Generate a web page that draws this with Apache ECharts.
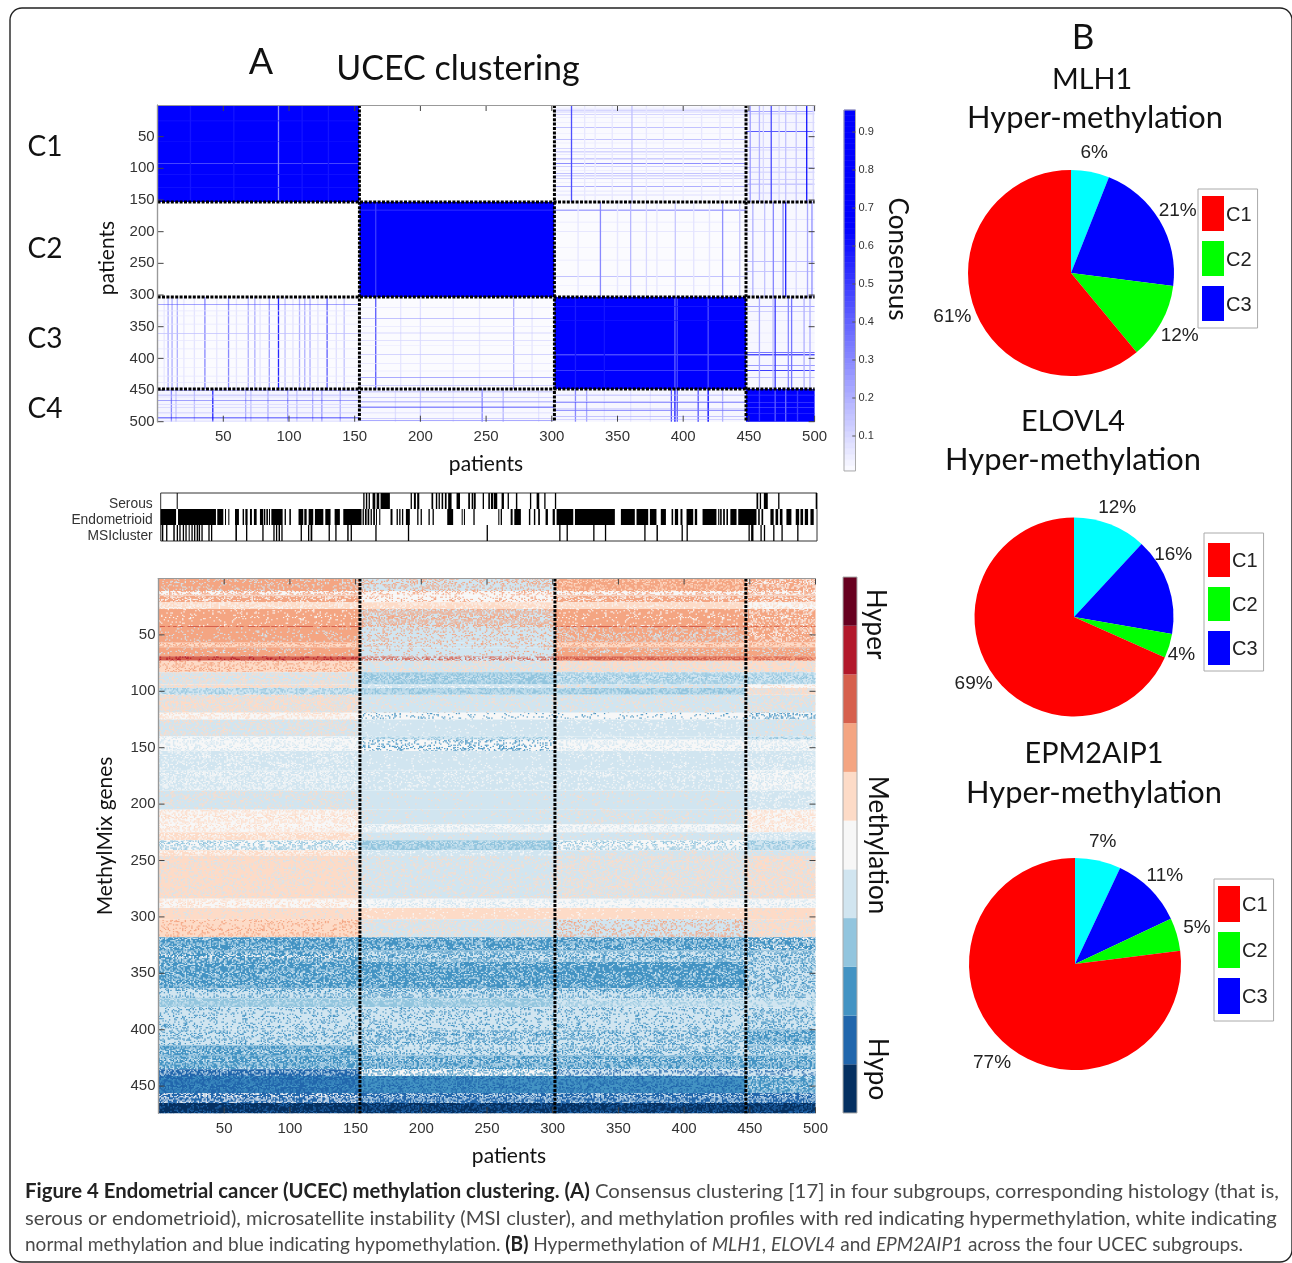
<!DOCTYPE html>
<html><head><meta charset="utf-8">
<style>html,body{margin:0;padding:0;background:#fff}#c{width:1292px;height:1263px}</style>
<script src="https://cdn.jsdelivr.net/npm/echarts@6/dist/echarts.min.js"></script>
</head><body><div id="c"></div>
<script>
// ---------- axis ticks
const patientTicks = [50,100,150,200,250,300,350,400,450,500];
const geneTicks = [50,100,150,200,250,300,350,400,450];
const consensusBarTicks = [0.1,0.2,0.3,0.4,0.5,0.6,0.7,0.8,0.9];
const trackRows = ['Serous','Endometrioid','MSIcluster'];

// ---------- consensus matrix
const colEdges = [0,153.6,302,447.8,500];
const rowEdges = [0,153,303,448.5,500];
// per cluster pair: [col cluster, row cluster, consensus]
const consensusBlocks = [
 [0,0,1],[1,0,0],[2,0,0.012],[3,0,0.025],
 [0,1,0],[1,1,1],[2,1,0.01],[3,1,0.018],
 [0,2,0.01],[1,2,0.01],[2,2,1],[3,2,0.02],
 [0,3,0.025],[1,3,0.018],[2,3,0.022],[3,3,0.92]];
// [patient index, cluster of that patient, crossing cluster, consensus] - drawn on both sides of the diagonal
const consensusStreaks = [
 [8,0,2,.2],[11,0,2,.2],[15,0,2,.2],[36,0,2,.3],[54,0,2,.3],[69,0,2,.2],[74,0,2,.2],[85,0,2,.25],[92,0,2,.55],[97,0,2,.15],[108,0,2,.2],[112,0,2,.2],[116,0,2,.2],[129,0,2,.4],[142,0,2,.15],
 [5,0,2,.06],[20,0,2,.06],[28,0,2,.07],[45,0,2,.06],[60,0,2,.07],[78,0,2,.07],[103,0,2,.07],[122,0,2,.08],[136,0,2,.08],
 [315,2,0,.45],[361,2,0,.16],[325,2,0,.06],[333,2,0,.05],[346,2,0,.06],[372,2,0,.06],[385,2,0,.06],[400,2,0,.05],[414,2,0,.06],[428,2,0,.06],[438,2,0,.06],
 [166,1,2,.42],[271,1,2,.2],[200,1,2,.08],[185,1,2,.06],[225,1,2,.06],[245,1,2,.06],[285,1,2,.06],
 [337,2,1,.3],[360,2,1,.18],[372,2,1,.1],[394,2,1,.14],[430,2,1,.28],[443,2,1,.14],[320,2,1,.06],[350,2,1,.06],[380,2,1,.06],[408,2,1,.07],[420,2,1,.07],
 [10.5,0,3,.3],[42,0,3,.55],[28,0,3,.15],[67,0,3,.2],[84,0,3,.2],[99,0,3,.25],[118,0,3,.2],[125,0,3,.25],[139,0,3,.2],[71,0,3,.15],[14,0,3,.15],[106,0,3,.15],
 [451,3,0,.25],[458,3,0,.2],[467,3,0,.45],[478,3,0,.15],[486,3,0,.14],[494,3,0,.6],[461,3,0,.1],[473,3,0,.1],[499,3,0,.1],
 [247,1,3,.3],[263,1,3,.18],[200,1,3,.14],[181,1,3,.08],[225,1,3,.07],[290,1,3,.07],
 [453,3,1,.2],[462,3,1,.15],[468.6,3,1,.3],[476,3,1,.3],[478,3,1,.55],[486,3,1,.1],[494.6,3,1,.22],[498,3,1,.28],
 [318,2,3,.3],[326.5,2,3,.22],[391,2,3,.45],[393.7,2,3,.6],[395.5,2,3,.4],[411.5,2,3,.45],[419,2,3,.7],[340,2,3,.07],[360,2,3,.07],[375,2,3,.07],[430,2,3,.2],[411,2,3,.22],
 [458,3,2,.22],[470,3,2,.5],[480,3,2,.3],[482.5,3,2,.35],[492,3,2,.2],[496.5,3,2,.2],[468.4,3,2,.16],
 // lighter lines on the blocks of the diagonal
 [92,0,0,.3],[25,0,0,.6],[58,0,0,.6],[110,0,0,.6],[130,0,0,.6],
 [166,1,1,.5],
 [393.7,2,2,.4],[395.5,2,2,.48],[419,2,2,.45],[318,2,2,.58],[340,2,2,.6],
 [458,3,3,.5],[470,3,3,.42],[478,3,3,.38],[487,3,3,.5]
];

// ---------- histology / MSI tracks: [first patient, last patient]
const serousRuns = [[12.2,12.7],[154.3,155.3],[156.3,157.4],[158.4,159.4],[161.4,163.5],[164.5,166.5],[167.5,174.6],[190.4,191.4],[192.9,194.4],[195.4,197],[206.3,207.6],[209.6,210.7],[211.7,212.7],[214,215.2],[216.5,217.8],[219,221.6],[225.4,228],[234.3,235.6],[236.9,238.2],[238.7,240],[245.3,246.3],[249.6,250.8],[251.6,253.4],[253.9,256.4],[259.7,261.5],[264.3,265.3],[270.6,271.7],[281.3,282.3],[286.4,288.4],[292.2,293.2],[300.3,301.3],[453.9,455.2],[456.4,457.4],[459.5,462.5],[470.4,471.4],[499,500]];
const endometrioidRuns = [[0,11.7],[13.2,42.1],[43.1,47.7],[49,49.7],[51.5,52.3],[56.6,59.6],[62.4,63.5],[64.5,66.2],[68,69.5],[71,73.1],[75.6,78.2],[78.7,79.7],[80.5,81.7],[82.5,83.2],[84.3,92.9],[94.4,95.4],[98,99.2],[105,108.6],[109.4,111.2],[112.7,116.2],[117.5,123.9],[125.4,129.4],[132.5,136.5],[139.1,153],[153.8,154.8],[155.6,156.9],[157.6,158.9],[159.9,160.9],[161.9,163.2],[164,164.5],[166.5,167.3],[175.1,176.6],[179.7,180.7],[181.7,182.7],[183.8,184.8],[186.8,189.8],[195.4,196.4],[198,199],[204,205],[207.1,208.1],[218.3,222.8],[229.3,230],[231,231.8],[238.2,239.2],[257.2,258],[259,260],[266.6,268.1],[269.4,274.4],[280.5,281.6],[284.3,285.4],[287.6,288.9],[293.2,295],[298.6,300.3],[301.6,314.3],[315.6,346],[350.6,361.2],[362.5,371.4],[372.7,377.7],[381,384.9],[389.2,390.4],[391.7,394.2],[396,397.5],[400.6,405.7],[406.9,408.7],[412.8,423.4],[424.7,425.6],[426.2,427.4],[428.5,429.8],[431,432.2],[434,438.7],[440,453.9],[455.2,456.4],[457.7,459],[464.5,467],[468.4,470.4],[471.7,473.7],[476.7,480.5],[483.8,486.4],[487.4,489.4],[490.7,493.2],[495,497.5]];
const msiRuns = [[0.8,2],[4.1,5.1],[9.6,10.7],[12.2,13.2],[14.2,15.2],[16.8,17.8],[18.8,19.8],[21.3,22.1],[23.4,24.4],[25.4,26.4],[27.4,28.4],[28.9,30],[31,32],[36.3,37.3],[38.3,39.3],[56.9,58.1],[65,66],[77.4,78.4],[85.8,86.8],[87.8,88.8],[89.8,90.9],[91.9,92.9],[106.6,107.6],[112.2,113.2],[114.2,115.5],[127.9,128.9],[133,134],[142.1,143.2],[144.7,145.7],[163.5,164.5],[188.3,189.3],[248.3,249.3],[303.6,304.6],[309.2,310.2],[329.5,330.5],[338.4,339.4],[368.4,369.4],[377.7,378.8],[396.8,397.8],[400.6,401.6],[447.8,448.8],[449.8,451.6],[456.9,457.9],[459.5,460.5],[466.6,467.6],[472.9,473.9],[484.9,485.9]];

// ---------- methylation: rows grouped in bands; per cluster and band: [main level, scattered level, share of scattered cells]
// levels run from 0 (deep hypo) to 10 (deep hyper)
const methylLevels = ['#053061','#2166ac','#4393c3','#92c5de','#d1e5f0','#f7f7f7','#fddbc7','#f4a582','#d6604d','#b2182b','#67001f'];
const methylColEdges = [0,153.3,301.7,447,500];
const methylRowEdges = [0,11,15,21,27,42,43,57,61,69,73,83,94,97,103,119,125,140,143,153,170,188,205,218,225,232,241,246,284,292,302,318,330,340,363,372,380,400,414,423,435,441,456,465,474];
const methylC1 = [[7,4,.2],[5,7,.4],[7,5,.3],[6,5,.3],[7,5,.1],[8,7,.3],[7,4,.12],[6,7,.4],[7,4,.12],[8,9,.2],[6,7,.25],[4,6,.4],[6,4,.3],[4,3,.35],[6,4,.45],[5,6,.3],[4,6,.3],[5,4,.4],[5,4,.3],[4,5,.25],[4,5,.4],[4,6,.22],[5,6,.4],[5,6,.3],[6,5,.3],[5,3,.4],[6,5,.4],[6,4,.2],[5,6,.3],[6,4,.1],[6,7,.2],[2,4,.35],[2,5,.4],[2,4,.35],[4,2,.3],[3,4,.3],[4,2,.2],[4,2,.25],[2,4,.4],[2,4,.4],[1,4,.3],[1,2,.4],[1,5,.4],[0,1,.2]];
const methylC2 = [[4,7,.3],[5,7,.25],[5,7,.2],[6,5,.2],[4,7,.5],[4,7,.5],[4,7,.2],[4,7,.2],[4,7,.1],[4,8,.5],[4,6,.3],[3,4,.4],[4,5,.2],[3,4,.5],[4,6,.12],[5,2,.12],[4,5,.05],[4,3,.3],[5,2,.25],[4,5,.08],[4,5,.15],[4,6,.05],[4,6,.08],[5,4,.4],[4,6,.1],[3,4,.4],[4,5,.2],[4,6,.2],[5,4,.3],[6,5,.1],[4,6,.3],[2,4,.35],[4,2,.45],[2,4,.3],[4,2,.4],[3,4,.3],[4,2,.2],[4,2,.4],[4,2,.3],[2,4,.45],[5,2,.4],[2,1,.35],[1,4,.4],[0,1,.3]];
const methylC3 = [[7,6,.3],[5,7,.3],[7,5,.35],[6,5,.15],[7,5,.12],[8,7,.3],[7,4,.3],[6,7,.3],[7,4,.2],[8,7,.3],[6,4,.3],[4,3,.5],[4,6,.2],[3,4,.4],[4,6,.15],[5,2,.1],[4,5,.1],[4,5,.2],[5,4,.3],[4,5,.1],[4,5,.2],[4,6,.08],[4,6,.15],[5,4,.3],[4,6,.12],[5,3,.35],[4,6,.2],[4,6,.4],[5,4,.2],[6,5,.05],[4,7,.25],[2,4,.4],[4,2,.4],[2,4,.25],[4,2,.35],[4,3,.35],[4,2,.2],[4,2,.35],[4,2,.35],[2,4,.45],[4,1,.3],[2,1,.35],[1,4,.4],[0,1,.3]];
const methylC4 = [[7,5,.4],[5,7,.4],[7,5,.4],[5,6,.3],[7,5,.3],[7,8,.5],[7,5,.3],[6,7,.3],[7,4,.2],[7,8,.5],[6,4,.3],[4,3,.4],[5,6,.2],[6,4,.4],[4,6,.3],[5,2,.3],[4,6,.15],[4,3,.3],[5,4,.4],[4,5,.25],[5,4,.4],[4,5,.2],[5,6,.4],[5,6,.35],[4,5,.3],[4,3,.4],[4,6,.2],[6,4,.4],[5,4,.3],[6,4,.1],[6,4,.3],[2,5,.4],[4,2,.4],[4,2,.35],[4,2,.3],[4,3,.3],[4,2,.3],[2,4,.45],[4,2,.4],[2,4,.4],[4,1,.3],[2,4,.4],[1,4,.4],[0,1,.35]];

// ---------- pies: slices clockwise from 12 o'clock
const pieNames = ['C4','C3','C2','C1'];
const pieColors = ['#00ffff','#0000ff','#00ff00','#ff0000'];
const mlh1Values = [6,21,12,61];
const elovl4Values = [12,16,4,69];
const epm2aip1Values = [7,11,5,77];

// ---------- text
const FONT = 'Lato';
const captionLines = [
 '{b|Figure 4 Endometrial cancer (UCEC) methylation clustering. (A)} Consensus clustering [17] in four subgroups, corresponding histology (that is,',
 'serous or endometrioid), microsatellite instability (MSI cluster), and methylation profiles with red indicating hypermethylation, white indicating',
 'normal methylation and blue indicating hypomethylation. {b|(B)} Hypermethylation of {i|MLH1}, {i|ELOVL4} and {i|EPM2AIP1} across the four UCEC subgroups.'];

// ---------- helpers
function consensusColor(v){
  const t = Math.min(1, v/0.65), c = Math.round(255*(1-t));
  return 'rgb('+c+','+c+',255)';
}
// fixed dither tables: the grain only shows each band's share of scattered cells
const ditherA = [.13,.71,.38,.92,.05,.56,.27,.84,.44,.63,.19];
const ditherB = [.48,.09,.77,.31,.95,.22,.6,.02,.86,.35,.67,.15,.53];
const ditherC = [.33,.81,.07,.59,.24,.98,.42];
const ditherD = [.62,.17,.89,.4,.75,.01,.28,.52,.94,.11,.7,.36,.83,.46,.21,.57,.04];
const tiles = {};
function speckTile(level, share){
  const key = level+'_'+share;
  if(tiles[key]) return tiles[key];
  const cv = document.createElement('canvas'); cv.width = 393; cv.height = 339;
  const ctx = cv.getContext('2d'); ctx.fillStyle = methylLevels[level];
  for(let i=0;i<300;i++) for(let j=0;j<300;j++){
    const raw = ditherA[i%11]*0.6 + ditherB[j%13]*0.6 + ditherC[(i+j)%7]*1.7 + ditherD[(i+2*j)%17]*2.3 + ditherA[(3*i+j)%11]*3.1;
    if(raw-Math.floor(raw) < share) ctx.fillRect(i*1.31,j*1.13,1.31,1.13);
  }
  return tiles[key] = {image:cv, repeat:'repeat'};
}
function rectItem(api,fill,extra){
  const a = api.coord([api.value(0),api.value(2)]), b = api.coord([api.value(1),api.value(3)]);
  return Object.assign({type:'rect',shape:{x:Math.min(a[0],b[0]),y:Math.min(a[1],b[1]),width:Math.abs(b[0]-a[0]),height:Math.abs(b[1]-a[1])},style:{fill:fill}},extra||{});
}

// ---------- build series data
const consensusData = [];
consensusBlocks.forEach(b=>consensusData.push([colEdges[b[0]],colEdges[b[0]+1],rowEdges[b[1]],rowEdges[b[1]+1],b[2]]));
consensusStreaks.forEach(s=>{
  const [i,own,other,v] = s;
  consensusData.push([i-.5,i+.5,rowEdges[other],rowEdges[other+1],v]);
  consensusData.push([colEdges[other],colEdges[other+1],i-.5,i+.5,v]);
});
const methylData = [];
[methylC1,methylC2,methylC3,methylC4].forEach((cells,c)=>cells.forEach((cell,k)=>{
  methylData.push([methylColEdges[c],methylColEdges[c+1],methylRowEdges[k],methylRowEdges[k+1],cell[0],cell[1],cell[2]]);
}));
const trackData = [];
[serousRuns,endometrioidRuns,msiRuns].forEach((runs,row)=>runs.forEach(r=>trackData.push([r[0],r[1],row])));
const consensusSteps = [];
for(let k=0;k<64;k++) consensusSteps.push([0,1,0.008+k*0.95/64,0.008+(k+1)*0.95/64]);
const methylBarData = methylLevels.map((c,i)=>[0,1,i,i+1,i]);

// ---------- grids and axes
const grids = [
 {left:157.6,top:105,width:657,height:316.7},        //0 consensus
 {left:160.7,top:493,width:656.3,height:48,show:true,borderColor:'#333',borderWidth:1}, //1 tracks
 {left:158.5,top:578.5,width:657,height:534.7},      //2 methylation
 {left:844,top:110,width:11.5,height:364},           //3 consensus bar
 {left:843,top:577,width:14,height:536}              //4 methylation bar
];
const labelStyle = {fontFamily:'Liberation Sans',fontSize:15,color:'#333'};
const frameLine = {show:true,lineStyle:{color:'#999',width:1.2}};
function xPair(g){return [
 {type:'value',gridIndex:g,min:0,max:500,position:'bottom',z:5,axisLine:frameLine,splitLine:{show:false},
  axisTick:{show:false},axisLabel:Object.assign({margin:8,customValues:patientTicks},labelStyle)},
 {type:'value',gridIndex:g,min:0,max:500,position:'top',z:5,axisLine:frameLine,splitLine:{show:false},
  axisTick:{show:false},axisLabel:{show:false}}
];}
function yPair(g,max,ticks){return [
 {type:'value',gridIndex:g,min:0,max:max,inverse:true,position:'left',z:5,axisLine:frameLine,splitLine:{show:false},
  axisTick:{show:false},axisLabel:Object.assign({margin:3,customValues:ticks},labelStyle)},
 {type:'value',gridIndex:g,min:0,max:max,inverse:true,position:'right',z:5,axisLine:frameLine,splitLine:{show:false},
  axisTick:{show:false},axisLabel:{show:false}}
];}
const plainX = g=>({type:'value',gridIndex:g,min:0,max:1,show:false});
const xAxes = [...xPair(0),...xPair(2),
 {type:'value',gridIndex:1,min:0,max:500,show:false},plainX(3),plainX(4)];
const yAxes = [...yPair(0,500,patientTicks),...yPair(2,474,geneTicks),
 {type:'category',gridIndex:1,data:trackRows,inverse:true,axisLine:{show:false},axisTick:{show:false},
  axisLabel:{interval:0,margin:8,formatter:'{a|{value}}',
   rich:{a:{fontFamily:'Liberation Sans',fontSize:13.8,color:'#333',padding:[6,0,0,0]}}}},
 {type:'value',gridIndex:3,min:0,max:0.958,position:'right',axisLine:{show:false},splitLine:{show:false},z:5,
  axisTick:{show:false},
  axisLabel:{fontFamily:'Liberation Sans',fontSize:11,color:'#333',margin:3,customValues:consensusBarTicks}},
 {type:'value',gridIndex:4,min:0,max:11,show:false}];
// axis indices: x 0,1 consensus; 2,3 methyl; 4 tracks; 5,6 bars.  y the same.

// inward ticks on all four sides of a heat map, placed through its scales
function tickSeries(xi,yi,xTicks,yTicks,maxY,pxPerY){
  const dx=6/1.314, dy=6/pxPerY, d=[];
  xTicks.forEach(t=>{d.push([t,t,0,dy]);d.push([t,t,maxY-dy,maxY]);});
  yTicks.forEach(t=>{d.push([0,dx,t,t]);d.push([500-dx,500,t,t]);});
  return {type:'custom',xAxisIndex:xi,yAxisIndex:yi,data:d,z:3,silent:true,animation:false,progressive:0,
   renderItem:(p,api)=>{
     const a=api.coord([api.value(0),api.value(2)]),b=api.coord([api.value(1),api.value(3)]);
     return {type:'line',shape:{x1:a[0],y1:a[1],x2:b[0],y2:b[1]},style:{stroke:'#444',lineWidth:1}};
   }};
}
function dottedLines(edgesX,edgesY,xi,yi,maxX,maxY,width){
  const out=[];
  edgesX.forEach(e=>out.push({type:'line',xAxisIndex:xi,yAxisIndex:yi,data:[[e,0],[e,maxY]],showSymbol:false,symbol:'none',silent:true,z:4,animation:false,lineStyle:{color:'#000',width:width,type:[3,1.4]}}));
  edgesY.forEach(e=>out.push({type:'line',xAxisIndex:xi,yAxisIndex:yi,data:[[0,e],[maxX,e]],showSymbol:false,symbol:'none',silent:true,z:4,animation:false,lineStyle:{color:'#000',width:width,type:[3,1.4]}}));
  return out;
}
function pieSeries(values,cx,cy,r,gap,nudge){
  const total = values.reduce((a,b)=>a+b,0);
  return {type:'pie',center:[cx,cy],radius:[0,r],startAngle:90,clockwise:true,silent:true,animation:false,
    data:values.map((v,i)=>({name:pieNames[i],value:v,itemStyle:{color:pieColors[i]}})),
    label:{show:true,position:'outside',formatter:'{c}%',fontFamily:'Liberation Sans',fontSize:19,color:'#222'},
    labelLine:{show:false},
    labelLayout:p=>{
      let before=0; for(let k=0;k<p.dataIndex;k++) before+=values[k];
      const a=(before+values[p.dataIndex]/2)/total*2*Math.PI, n=nudge[p.dataIndex];
      return {x:cx+(r+gap)*Math.sin(a)+n[0],y:cy-(r+gap)*Math.cos(a)+n[1],align:'center',verticalAlign:'middle'};
    }};
}
function legendAt(left,top,h,padT,padB){
  return {left:left,top:top,orient:'vertical',data:['C1','C2','C3'],selectedMode:false,icon:'rect',itemWidth:22,itemHeight:h,itemGap:10,
    padding:[padT,6,padB,4],borderColor:'#aaa',borderWidth:1,formatter:'{a|{name}}',
    textStyle:{rich:{a:{fontFamily:'Liberation Sans',fontSize:20,color:'#222',padding:[3,0,0,-3]}}}};
}
function txt(t,x,y,size,rot,align){
  return {type:'text',x:x,y:y,rotation:rot||0,style:{text:t,font:size+'px '+FONT,fill:'#111',align:align||'center',verticalAlign:'middle'}};
}
const R = Math.PI/2;
const graphics = [
 {type:'rect',shape:{x:10,y:8,width:1282,height:1254,r:12},style:{fill:'none',stroke:'#222',lineWidth:1.4},silent:true},
 txt('A',261,62,36), txt('UCEC clustering',458,69,34), txt('B',1083,38,35),
 txt('MLH1',1092,80,28.8), txt('Hyper-methylation',1095,118,30.8),
 txt('ELOVL4',1073,422,28.8), txt('Hyper-methylation',1073,460,30.8),
 txt('EPM2AIP1',1094,754,28.8), txt('Hyper-methylation',1094,793,30.8),
 txt('C1',45,147,28), txt('C2',45,249,28), txt('C3',45,339,28), txt('C4',45,409,28),
 txt('patients',486,464,21), txt('patients',509,1156,21),
 txt('patients',107,258,21,R), txt('MethylMix genes',105,836,21,R),
 txt('Consensus',897,259,26,-R), txt('Hyper',875,624,26,-R), txt('Methylation',877,845,26,-R), txt('Hypo',877,1069,26,-R)
];
const captionScale = [1.017,1.01,0.952];
captionLines.forEach((line,i)=>graphics.push({type:'text',x:25,y:[1192,1219,1245][i],scaleX:captionScale[i],
  style:{text:line,font:'20px '+FONT,fill:'#4a4a4a',align:'left',verticalAlign:'middle',
   rich:{b:{fontFamily:FONT,fontSize:20,fontWeight:'bold',fill:'#222',color:'#222'},i:{fontFamily:FONT,fontSize:20,fontStyle:'italic',fill:'#4a4a4a',color:'#4a4a4a'}}}}));

const series = [
 {type:'custom',xAxisIndex:0,yAxisIndex:0,data:consensusData,z:2,silent:true,animation:false,progressive:0,
  renderItem:(p,api)=>rectItem(api,consensusColor(api.value(4)))},
 {type:'custom',xAxisIndex:2,yAxisIndex:2,data:methylData,z:2,silent:true,animation:false,progressive:0,
  renderItem:(p,api)=>{
    const base=rectItem(api,methylLevels[api.value(4)]);
    const over=rectItem(api,speckTile(api.value(5),api.value(6)));
    return {type:'group',children:[base,over]};
  }},
 {type:'custom',xAxisIndex:4,yAxisIndex:4,data:trackData,z:2,silent:true,animation:false,progressive:0,
  renderItem:(p,api)=>{
    const a=api.coord([api.value(0),api.value(2)]),b=api.coord([api.value(1),api.value(2)]),h=api.size([0,1])[1];
    return {type:'rect',shape:{x:a[0],y:a[1]-h/2,width:Math.max(1,b[0]-a[0]),height:h},style:{fill:'#000'}};
  }},
 {type:'custom',xAxisIndex:5,yAxisIndex:5,data:consensusSteps,z:2,silent:true,animation:false,progressive:0,
  renderItem:(p,api)=>{
    const c=consensusColor((api.value(2)+api.value(3))/2), it=rectItem(api,c);
    it.style.stroke=c; it.style.lineWidth=0.6; return it;
  }},
 {type:'custom',xAxisIndex:5,yAxisIndex:5,data:[[0,1,0.008,0.958]],z:3,silent:true,animation:false,
  renderItem:(p,api)=>{const it=rectItem(api,'none'); it.style.stroke='#aaa'; it.style.lineWidth=1; return it;}},
 {type:'custom',xAxisIndex:5,yAxisIndex:5,data:consensusBarTicks.map(t=>[0.72,1,t,t]),z:3,silent:true,animation:false,
  renderItem:(p,api)=>{
    const a=api.coord([api.value(0),api.value(2)]),b=api.coord([api.value(1),api.value(3)]);
    return {type:'line',shape:{x1:a[0],y1:a[1],x2:b[0],y2:b[1]},style:{stroke:'#555',lineWidth:1}};
  }},
 {type:'custom',xAxisIndex:6,yAxisIndex:6,data:methylBarData,z:2,silent:true,animation:false,progressive:0,
  renderItem:(p,api)=>rectItem(api,methylLevels[api.value(4)])},
 {type:'custom',xAxisIndex:6,yAxisIndex:6,data:[[0,1,0,11]],z:3,silent:true,animation:false,
  renderItem:(p,api)=>{const it=rectItem(api,'none'); it.style.stroke='#aaa'; it.style.lineWidth=1; return it;}},
 tickSeries(0,0,patientTicks,patientTicks,500,0.6334),
 tickSeries(2,2,patientTicks,geneTicks,474,1.128),
 ...dottedLines(colEdges.slice(1,4),rowEdges.slice(1,4),0,0,500,500,3),
 ...dottedLines(methylColEdges.slice(1,4),[],2,2,500,474,3),
 pieSeries(mlh1Values,1071,273,103,21,[[0,2],[0,1],[0,3],[-2,2]]),
 pieSeries(elovl4Values,1074,617,99.5,19,[[0,1],[-13,-24],[-6,3],[-1,2]]),
 pieSeries(epm2aip1Values,1075,964,106,21,[[0,2],[0,2],[0,-1],[1,4]])
];

const chart = echarts.init(document.getElementById('c'),null,{renderer:'canvas',width:1292,height:1263});
chart.setOption({
  animation:false,backgroundColor:'#fff',
  grid:grids,xAxis:xAxes,yAxis:yAxes,
  legend:[legendAt(1198,189,35,7,7),legendAt(1204,533,34,10,6),legendAt(1214,879,36,7,7)],
  graphic:graphics,series:series
});
</script></body></html>
